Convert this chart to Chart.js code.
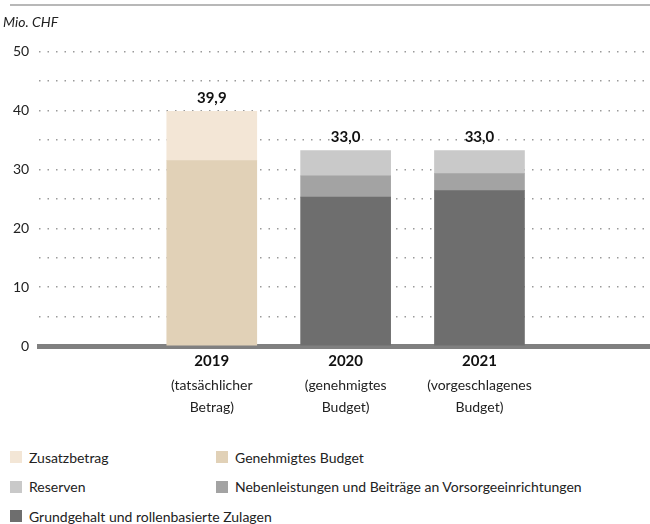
<!DOCTYPE html>
<html>
<head>
<meta charset="utf-8">
<script src="https://cdn.jsdelivr.net/npm/chart.js@4"></script>
<style>
  body { margin: 0; background: #fff; width: 650px; height: 524px; position: relative; overflow: hidden; font-family: Lato, sans-serif; }
  #topline { position: absolute; left: 10px; top: 4px; width: 640px; height: 2px; background: #b8b8b8; }
  #wrap { position: absolute; left: 0; top: 0; width: 650px; height: 440px; }
  #legend { position: absolute; left: 10px; top: 445px; display: grid; grid-template-columns: 206px auto; grid-auto-rows: 29.5px; font-size: 14px; color: #222; }
  #legend div { display: flex; align-items: center; white-space: nowrap; height: 24px; }
  #legend span.box { width: 12px; height: 12px; margin-right: 7px; flex: none; }
</style>
</head>
<body>
<div id="topline"></div>
<div id="wrap"><canvas id="myChart"></canvas></div>
<div id="legend"></div>
<script>
var years = [2019, 2020, 2021];
var yearLabels = ['2019', '2020', '2021'];
var subLine1 = ['(tatsächlicher', '(genehmigtes', '(vorgeschlagenes'];
var subLine2 = ['Betrag)', 'Budget)', 'Budget)'];
var totals = [39.9, 33.0, 33.0];

// stack order bottom -> top
var grundgehalt = [null, 25.3, 26.4];
var nebenleistungen = [null, 3.6, 2.9];
var reserven = [null, 4.3, 3.9];
var genehmigt = [31.5, null, null];
var zusatz = [8.4, null, null];

var legendOrder = ['Zusatzbetrag', 'Genehmigtes Budget', 'Reserven',
  'Nebenleistungen und Beiträge an Vorsorgeeinrichtungen', 'Grundgehalt und rollenbasierte Zulagen'];

var xMin = 2017.711, xMax = 2022.274;

function pts(arr) {
  return years.map(function (y, i) { return { x: y, y: arr[i] }; });
}

function yearTicks(axis) {
  axis.ticks = years.map(function (v) { return { value: v }; });
}

// extra bottom axes just to carry the second and third label line
function labelAxis(lines, pad, lh) {
  return {
    type: 'linear',
    position: 'bottom',
    offset: false,
    min: xMin,
    max: xMax,
    afterBuildTicks: yearTicks,
    grid: { display: false, drawTicks: false },
    border: { display: false },
    ticks: {
      autoSkip: false, maxRotation: 0, padding: pad, color: '#222',
      crossAlign: 'center',
      font: { family: 'Lato', size: 14, lineHeight: lh },
      callback: function (v, i) { return lines[i]; }
    }
  };
}

var totalLabels = {
  id: 'totalLabels',
  afterDatasetsDraw: function (chart) {
    var ctx = chart.ctx;
    var xs = chart.scales.x, ys = chart.scales.y;
    ctx.save();
    ctx.font = 'bold 15px Lato, sans-serif';
    ctx.fillStyle = '#111';
    ctx.textAlign = 'center';
    ctx.textBaseline = 'bottom';
    years.forEach(function (yr, i) {
      var sum = 0;
      chart.data.datasets.forEach(function (ds) { sum += ds.data[i].y || 0; });
      ctx.fillText(totals[i].toFixed(1).replace('.', ','), xs.getPixelForValue(yr), ys.getPixelForValue(sum) - 6);
    });
    ctx.restore();
  }
};

var htmlLegend = {
  id: 'htmlLegend',
  afterUpdate: function (chart) {
    var box = document.getElementById('legend');
    box.innerHTML = '';
    legendOrder.forEach(function (name) {
      var ds = chart.data.datasets.find(function (d) { return d.label === name; });
      var item = document.createElement('div');
      var sw = document.createElement('span');
      sw.className = 'box';
      sw.style.background = ds.backgroundColor;
      item.appendChild(sw);
      item.appendChild(document.createTextNode(name));
      box.appendChild(item);
    });
  }
};

var ctx = document.getElementById('myChart').getContext('2d');
var myChart = new Chart(ctx, {
  type: 'bar',
  data: {
    datasets: [
      { label: 'Grundgehalt und rollenbasierte Zulagen', data: pts(grundgehalt), backgroundColor: '#6e6e6e' },
      { label: 'Nebenleistungen und Beiträge an Vorsorgeeinrichtungen', data: pts(nebenleistungen), backgroundColor: '#a3a3a3' },
      { label: 'Reserven', data: pts(reserven), backgroundColor: '#c9c9c9' },
      { label: 'Genehmigtes Budget', data: pts(genehmigt), backgroundColor: '#e1d1b7' },
      { label: 'Zusatzbetrag', data: pts(zusatz), backgroundColor: '#f3e6d6' }
    ]
  },
  options: {
    responsive: true,
    maintainAspectRatio: false,
    animation: false,
    barThickness: 90,
    layout: { padding: { left: 3, right: 0, top: 0, bottom: 7 } },
    scales: {
      x: {
        type: 'linear',
        stacked: true,
        offset: false,
        min: xMin,
        max: xMax,
        afterBuildTicks: yearTicks,
        grid: { display: false, drawTicks: false },
        border: { display: true, color: '#808080', width: 5 },
        ticks: {
          autoSkip: false, maxRotation: 0, padding: 6, color: '#111',
          font: { family: 'Lato', size: 15, weight: 'bold' },
          callback: function (v, i) { return yearLabels[i]; }
        }
      },
      x2: labelAxis(subLine1, 9, 0.3),
      x3: labelAxis(subLine2, 9, 1.2),
      y: {
        stacked: true,
        min: 0,
        max: 50,
        grid: { color: '#9a9a9a', lineWidth: 1.5, drawTicks: false },
        border: { display: false, dash: [1.5, 7] },
        ticks: {
          stepSize: 5, padding: 10, color: '#222',
          font: { family: 'Lato', size: 14 },
          callback: function (v) { return v % 10 === 0 ? v : ''; }
        }
      }
    },
    plugins: {
      legend: { display: false },
      tooltip: { enabled: false },
      title: {
        display: true,
        text: 'Mio. CHF',
        align: 'start',
        color: '#222',
        font: { family: 'Lato', size: 14, style: 'italic', weight: 'normal' },
        padding: { top: 14, bottom: 21 }
      }
    }
  },
  plugins: [totalLabels, htmlLegend]
});
</script>
</body>
</html>
